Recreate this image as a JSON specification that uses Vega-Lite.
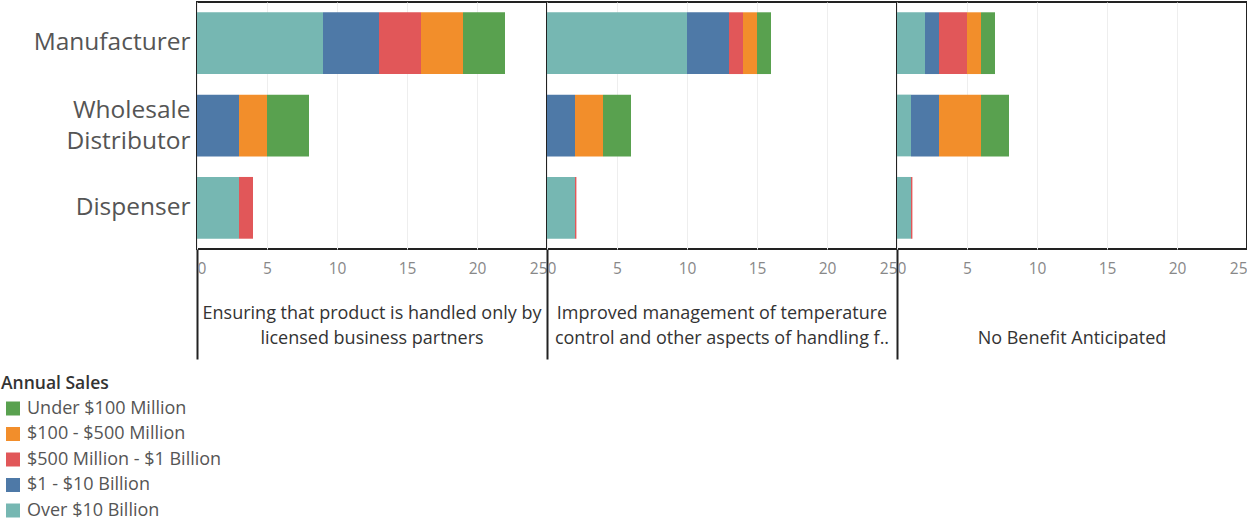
{
  "$schema": "https://vega.github.io/schema/vega-lite/v6.json",
  "padding": {"left": 0, "top": 1, "right": 0, "bottom": 0},
  "bounds": "flush",
  "background": "white",
  "data": {
    "values": [
      {"benefit": "Ensuring that product is handled only by licensed business partners", "entity": "Manufacturer", "sales": "Over $10 Billion", "tier": 5, "count": 9},
      {"benefit": "Ensuring that product is handled only by licensed business partners", "entity": "Manufacturer", "sales": "$1 - $10 Billion", "tier": 4, "count": 4},
      {"benefit": "Ensuring that product is handled only by licensed business partners", "entity": "Manufacturer", "sales": "$500 Million - $1 Billion", "tier": 3, "count": 3},
      {"benefit": "Ensuring that product is handled only by licensed business partners", "entity": "Manufacturer", "sales": "$100 - $500 Million", "tier": 2, "count": 3},
      {"benefit": "Ensuring that product is handled only by licensed business partners", "entity": "Manufacturer", "sales": "Under $100 Million", "tier": 1, "count": 3},
      {"benefit": "Ensuring that product is handled only by licensed business partners", "entity": "Wholesale Distributor", "sales": "$1 - $10 Billion", "tier": 4, "count": 3},
      {"benefit": "Ensuring that product is handled only by licensed business partners", "entity": "Wholesale Distributor", "sales": "$100 - $500 Million", "tier": 2, "count": 2},
      {"benefit": "Ensuring that product is handled only by licensed business partners", "entity": "Wholesale Distributor", "sales": "Under $100 Million", "tier": 1, "count": 3},
      {"benefit": "Ensuring that product is handled only by licensed business partners", "entity": "Dispenser", "sales": "Over $10 Billion", "tier": 5, "count": 3},
      {"benefit": "Ensuring that product is handled only by licensed business partners", "entity": "Dispenser", "sales": "$500 Million - $1 Billion", "tier": 3, "count": 1},
      {"benefit": "Improved management of temperature control and other aspects of handling f..", "entity": "Manufacturer", "sales": "Over $10 Billion", "tier": 5, "count": 10},
      {"benefit": "Improved management of temperature control and other aspects of handling f..", "entity": "Manufacturer", "sales": "$1 - $10 Billion", "tier": 4, "count": 3},
      {"benefit": "Improved management of temperature control and other aspects of handling f..", "entity": "Manufacturer", "sales": "$500 Million - $1 Billion", "tier": 3, "count": 1},
      {"benefit": "Improved management of temperature control and other aspects of handling f..", "entity": "Manufacturer", "sales": "$100 - $500 Million", "tier": 2, "count": 1},
      {"benefit": "Improved management of temperature control and other aspects of handling f..", "entity": "Manufacturer", "sales": "Under $100 Million", "tier": 1, "count": 1},
      {"benefit": "Improved management of temperature control and other aspects of handling f..", "entity": "Wholesale Distributor", "sales": "$1 - $10 Billion", "tier": 4, "count": 2},
      {"benefit": "Improved management of temperature control and other aspects of handling f..", "entity": "Wholesale Distributor", "sales": "$100 - $500 Million", "tier": 2, "count": 2},
      {"benefit": "Improved management of temperature control and other aspects of handling f..", "entity": "Wholesale Distributor", "sales": "Under $100 Million", "tier": 1, "count": 2},
      {"benefit": "Improved management of temperature control and other aspects of handling f..", "entity": "Dispenser", "sales": "Over $10 Billion", "tier": 5, "count": 2},
      {"benefit": "Improved management of temperature control and other aspects of handling f..", "entity": "Dispenser", "sales": "$500 Million - $1 Billion", "tier": 3, "count": 0.1},
      {"benefit": "No Benefit Anticipated", "entity": "Manufacturer", "sales": "Over $10 Billion", "tier": 5, "count": 2},
      {"benefit": "No Benefit Anticipated", "entity": "Manufacturer", "sales": "$1 - $10 Billion", "tier": 4, "count": 1},
      {"benefit": "No Benefit Anticipated", "entity": "Manufacturer", "sales": "$500 Million - $1 Billion", "tier": 3, "count": 2},
      {"benefit": "No Benefit Anticipated", "entity": "Manufacturer", "sales": "$100 - $500 Million", "tier": 2, "count": 1},
      {"benefit": "No Benefit Anticipated", "entity": "Manufacturer", "sales": "Under $100 Million", "tier": 1, "count": 1},
      {"benefit": "No Benefit Anticipated", "entity": "Wholesale Distributor", "sales": "Over $10 Billion", "tier": 5, "count": 1},
      {"benefit": "No Benefit Anticipated", "entity": "Wholesale Distributor", "sales": "$1 - $10 Billion", "tier": 4, "count": 2},
      {"benefit": "No Benefit Anticipated", "entity": "Wholesale Distributor", "sales": "$100 - $500 Million", "tier": 2, "count": 3},
      {"benefit": "No Benefit Anticipated", "entity": "Wholesale Distributor", "sales": "Under $100 Million", "tier": 1, "count": 2},
      {"benefit": "No Benefit Anticipated", "entity": "Dispenser", "sales": "Over $10 Billion", "tier": 5, "count": 1},
      {"benefit": "No Benefit Anticipated", "entity": "Dispenser", "sales": "$500 Million - $1 Billion", "tier": 3, "count": 0.1}
    ]
  },
  "facet": {
    "column": {
      "field": "benefit",
      "type": "nominal",
      "sort": ["Ensuring that product is handled only by licensed business partners", "Improved management of temperature control and other aspects of handling f..", "No Benefit Anticipated"],
      "header": {
        "title": null,
        "labelOrient": "bottom",
        "labelFont": "Open Sans",
        "labelFontSize": 18,
        "labelColor": "#333333",
        "labelLimit": 0,
        "labelBaseline": "top",
        "labelPadding": -55,
        "labelLineHeight": 25,
        "labelExpr": "datum.value == 'Ensuring that product is handled only by licensed business partners' ? ['Ensuring that product is handled only by', 'licensed business partners'] : datum.value == 'Improved management of temperature control and other aspects of handling f..' ? ['Improved management of temperature', 'control and other aspects of handling f..'] : ['', datum.value]"
      }
    }
  },
  "spacing": 0,
  "spec": {
    "width": 350,
    "height": 247,
    "mark": {"type": "bar"},
    "encoding": {
      "y": {
        "field": "entity",
        "type": "nominal",
        "sort": ["Manufacturer", "Wholesale Distributor", "Dispenser"],
        "scale": {"paddingInner": 0.25, "paddingOuter": 0.125},
        "axis": {
          "title": null,
          "domain": false,
          "ticks": false,
          "grid": false,
          "labelFont": "Open Sans",
          "labelFontSize": 24.5,
          "labelColor": "#555555",
          "labelPadding": 7,
          "labelAlign": "right",
          "labelLineHeight": 31,
          "labelOffset": {"condition": {"test": "datum.value == 'Wholesale Distributor'", "value": -15}, "value": 0},
          "minExtent": 197,
          "maxExtent": 197,
          "labelExpr": "datum.value == 'Wholesale Distributor' ? ['Wholesale', 'Distributor'] : datum.value"
        }
      },
      "x": {
        "field": "count",
        "type": "quantitative",
        "scale": {"domain": [0, 25], "nice": false},
        "axis": {
          "title": null,
          "values": [0, 5, 10, 15, 20, 25],
          "domain": false,
          "grid": true,
          "labelFont": "Open Sans",
          "labelFontSize": 15.5,
          "labelColor": "#888888",
          "labelFlush": true,
          "labelPadding": {"condition": {"test": "datum.value == 0", "value": -98}, "value": 12},
          "gridColor": "#eeeeee",
          "tickColor": {"condition": {"test": "datum.value == 0", "value": "#222222"}, "value": "transparent"},
          "tickSize": {"condition": {"test": "datum.value == 0", "value": 110}, "value": 0},
          "tickWidth": 2
        }
      },
      "color": {
        "field": "sales",
        "type": "nominal",
        "scale": {
          "domain": ["Under $100 Million", "$100 - $500 Million", "$500 Million - $1 Billion", "$1 - $10 Billion", "Over $10 Billion"],
          "range": ["#59A14F", "#F28E2B", "#E15759", "#4E79A7", "#76B7B2"]
        },
        "legend": {
          "title": "Annual Sales",
          "orient": "none",
          "legendX": -196,
          "legendY": 373,
          "direction": "vertical",
          "titleFont": "Open Sans",
          "titleFontSize": 17.5,
          "titleFontWeight": 600,
          "titleColor": "#333333",
          "titlePadding": 7,
          "labelFont": "Open Sans",
          "labelFontSize": 18,
          "labelColor": "#555555",
          "labelOffset": 5,
          "symbolOffset": 3,
          "symbolType": "square",
          "symbolSize": 196,
          "symbolStrokeWidth": 0,
          "rowPadding": 7.5,
          "labelLimit": 400
        }
      },
      "order": {"field": "tier", "type": "quantitative", "sort": "descending"}
    }
  },
  "config": {
    "view": {"stroke": "#222222", "strokeWidth": 2}
  }
}
